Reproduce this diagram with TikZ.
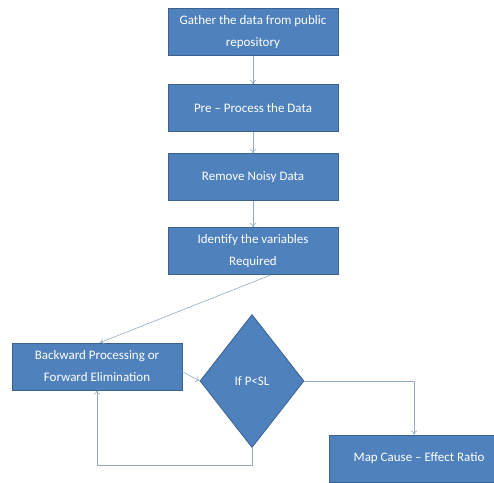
\documentclass[tikz,border=0pt]{standalone}
\usepackage{fontspec}
\setmainfont{Carlito}
\usepackage{xcolor}
\definecolor{BoxBlue}{HTML}{4f81bd}
\definecolor{BoxEdge}{HTML}{3a6190}
\definecolor{LinkGrey}{HTML}{94aac4}
\usetikzlibrary{positioning, arrows.meta, shapes.geometric, calc}

\tikzset{
  stepbox/.style={draw=BoxEdge, fill=BoxBlue, text=white, thick,
                  minimum width=170pt, minimum height=47pt, align=center,
                  font=\fontsize{13}{22}\selectfont},
  decide/.style={draw=BoxEdge, fill=BoxBlue, text=white, thick, diamond,
                 minimum width=104pt, minimum height=133pt, inner sep=0pt,
                 font=\fontsize{13}{22}\selectfont},
  link/.style={draw=LinkGrey, semithick, -{To[length=4pt,width=6pt]}}
}

\begin{document}
\begin{tikzpicture}[x=1pt, y=1pt]
      \useasboundingbox (0,0) rectangle (494,-482);
      \fill[white] (0,0) rectangle (494,-482);

      % main column
      \node[stepbox] (gather) at (253,-32) {Gather the data from public\\repository};
      \node[stepbox] (preproc) at (253,-108) {Pre -- Process the Data};
      \node[stepbox] (noisy) at (253,-177) {Remove Noisy Data};
      \node[stepbox] (identify) at (253,-251) {Identify the variables\\Required};

      % selection loop
      \node[stepbox] (backward) at (97,-366.5) {Backward Processing or\\Forward Elimination};
      \node[decide] (test) at (252,-381) {If P\textless SL};
      \node[stepbox, minimum width=180pt] (mapratio) at (419,-458.5) {Map Cause -- Effect Ratio};

      \draw[link] (gather) -- (preproc);
      \draw[link] (preproc) -- (noisy);
      \draw[link] (noisy) -- (identify);
      \draw[link] ([xshift=18pt]identify.south) -- ([xshift=3pt]backward.north);
      \draw[link] ([yshift=-5pt]backward.east) -- (test.west);
      \draw[link] (test.east) -| ([xshift=-5pt]mapratio.north);
      \draw[link] (test.south) -- ++(0,-17) -| (backward.south);
    \end{tikzpicture}
\end{document}
